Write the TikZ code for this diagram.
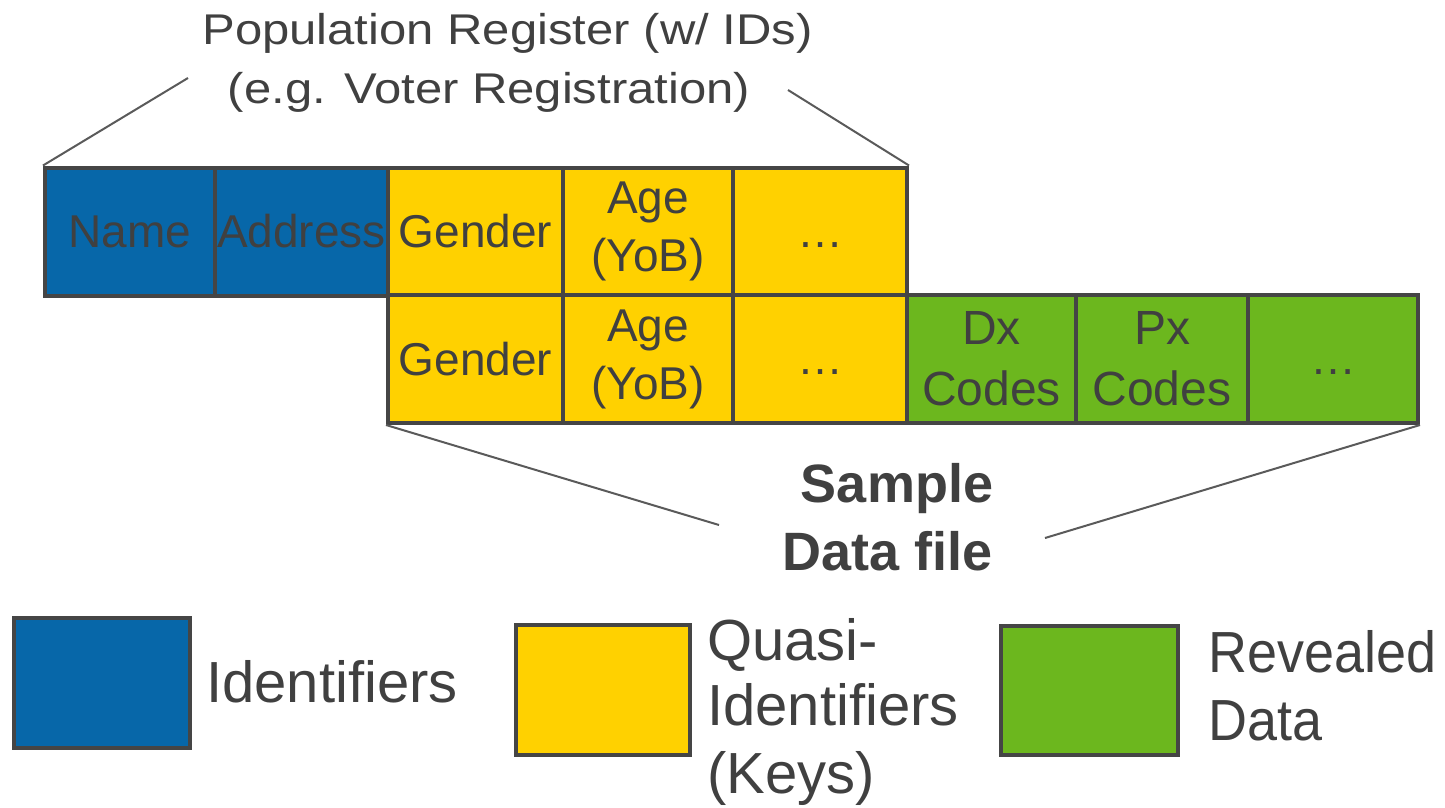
\documentclass[tikz,border=0pt]{standalone}
\usepackage{fontspec}
\usepackage{graphicx}
\setmainfont{Liberation Sans}
\definecolor{bluec}{HTML}{0767A9}
\definecolor{yelc}{HTML}{FFD100}
\definecolor{grnc}{HTML}{6CB71E}
\definecolor{bordc}{HTML}{454545}
\definecolor{txtc}{HTML}{404040}
\definecolor{leadc}{HTML}{5A5A5A}
\tikzset{
  cell/.style={draw=bordc, line width=4pt, inner sep=0pt, align=center, text=txtc,
    minimum height=128pt, font=\fontsize{46}{58}\selectfont},
  leader/.style={draw=leadc, line width=2pt},
  titletext/.style={inner sep=0pt, text=txtc, font=\fontsize{43}{52}\selectfont},
  legbox/.style={draw=bordc, line width=4pt, inner sep=0pt},
  legtext/.style={inner sep=0pt, text=txtc, anchor=base west, font=\fontsize{58}{66}\selectfont},
  sampletext/.style={inner sep=0pt, text=txtc, anchor=base, font=\fontsize{54}{68}\selectfont\bfseries}
}
\newcommand{\celldots}{\vphantom{A}…}
\begin{document}
\begin{tikzpicture}[x=1pt,y=-1pt]
\useasboundingbox (0,0) rectangle (1445,808);
% title
\node[titletext, anchor=base] (title1) at (507.5,45) {\scalebox{1.14}[1]{Population Register (w/ IDs)}};
\node[titletext, anchor=base] (title2) at (489,103) {\scalebox{1.14}[1]{(e.g. Voter Registration)}};
% top row
\node[cell, fill=bluec, minimum width=170pt] (name) at (130,231.5) {Name};
\node[cell, fill=bluec, minimum width=173pt] (addr) at (301.5,231.5) {Address};
\node[cell, fill=yelc, minimum width=175pt] (gen1) at (475.5,231.5) {Gender};
\node[cell, fill=yelc, minimum width=170pt] (age1) at (648,231.5) {Age\\(YoB)};
\node[cell, fill=yelc, minimum width=174pt] (etc1) at (820,231.5) {\celldots};
% bottom row
\node[cell, fill=yelc, minimum width=175pt] (gen2) at (475.5,359) {Gender};
\node[cell, fill=yelc, minimum width=170pt] (age2) at (648,359) {Age\\(YoB)};
\node[cell, fill=yelc, minimum width=174pt] (etc2) at (820,359) {\celldots};
\node[cell, fill=grnc, minimum width=169pt, font=\fontsize{48}{61}\selectfont] (dx) at (991.5,359) {Dx\\Codes};
\node[cell, fill=grnc, minimum width=172pt, font=\fontsize{48}{61}\selectfont] (px) at (1162,359) {Px\\Codes};
\node[cell, fill=grnc, minimum width=170pt] (etc3) at (1333,359) {\celldots};
% leader lines
\coordinate (tl) at (188,78);
\coordinate (tr) at (788,90);
\coordinate (bl) at (719,525);
\coordinate (br) at (1045,538);
\draw[leader] (name.north west) -- (tl);
\draw[leader] (etc1.north east) -- (tr);
\draw[leader] (gen2.south west) -- (bl);
\draw[leader] (etc3.south east) -- (br);
% sample data file
\node[sampletext] (sample1) at (897,502) {Sample};
\node[sampletext] (sample2) at (888,570) {Data file};
% legend
\node[legbox, fill=bluec, minimum width=176pt, minimum height=130pt] (legB) at (102,683) {};
\node[legtext] (legBt) at (206,702) {Identifiers};
\node[legbox, fill=yelc, minimum width=174pt, minimum height=130pt] (legY) at (603,690) {};
\node[legtext] (legYt1) at (707,660) {Quasi-};
\node[legtext] (legYt2) at (707,725) {Identifiers};
\node[legtext] (legYt3) at (707,793) {(Keys)};
\node[legbox, fill=grnc, minimum width=177pt, minimum height=129pt] (legG) at (1089.5,690.5) {};
\node[legtext] (legGt1) at (1208,672) {\scalebox{0.93}[1]{Revealed}};
\node[legtext] (legGt2) at (1208,740) {\scalebox{0.93}[1]{Data}};
\end{tikzpicture}
\end{document}
